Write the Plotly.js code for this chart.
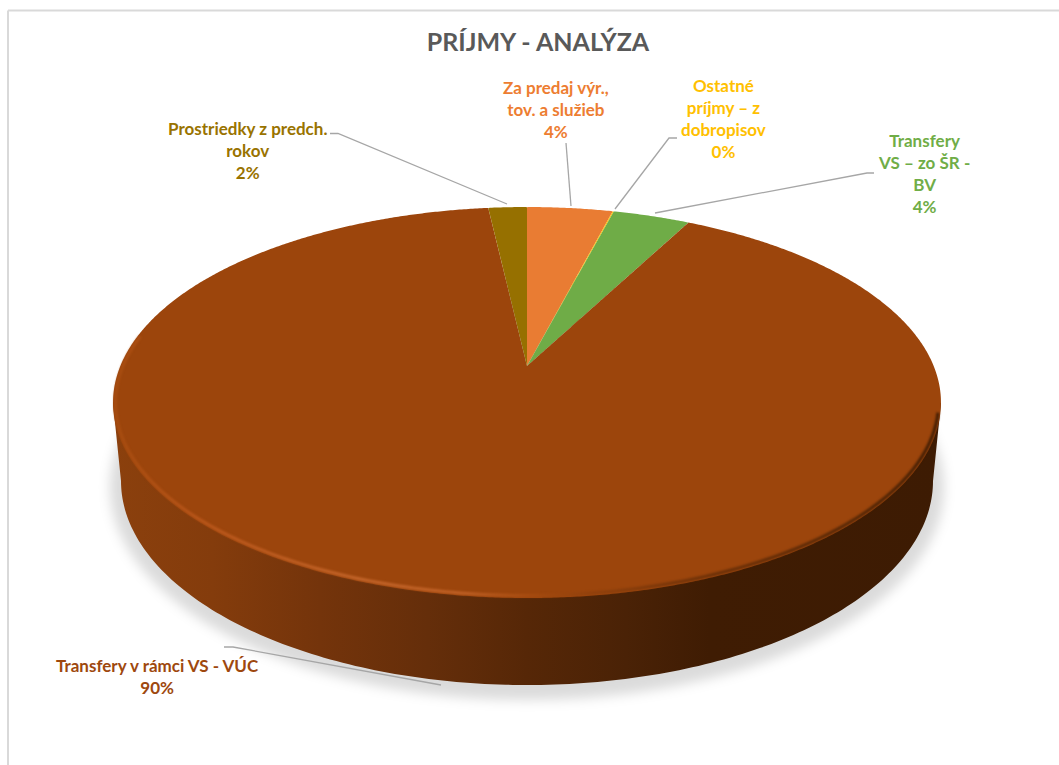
<!DOCTYPE html>
<html>
<head>
<meta charset="utf-8">
<script src="https://cdn.plot.ly/plotly-3.0.1.min.js"></script>
<style>html,body{margin:0;padding:0;background:#fff;overflow:hidden}#chart{width:1059px;height:765px}</style>
</head>
<body>
<div id="chart"></div>
<script>
var titleText = 'PRÍJMY - ANALÝZA';
var categories = ['Za predaj výr., tov. a služieb', 'Ostatné príjmy – z dobropisov', 'Transfery VS – zo ŠR - BV', 'Transfery v rámci VS - VÚC', 'Prostriedky z predch. rokov'];
var values = [4.0, 0.05, 3.6, 90.4, 1.8];
var sliceColors = ['#e97c33', '#ffc000', '#6fac47', '#9c450c', '#967000'];
var labelColors = ['#ed7d31', '#ffc000', '#70ad47', '#9e480e', '#997300'];
var labelLines = [
  ['Za predaj výr.,', 'tov. a služieb'],
  ['Ostatné', 'príjmy – z', 'dobropisov'],
  ['Transfery', 'VS – zo ŠR -', 'BV'],
  ['Transfery v rámci VS - VÚC'],
  ['Prostriedky z predch.', 'rokov']
];
var labelX = [556, 723, 924, 157, 247];
var labelY = [110, 118, 174, 676, 151];
var leaders = [
  [[566,143],[571,206]],
  [[677,138],[669,138],[615,209]],
  [[874,173],[867,173],[655,213]],
  [[224,647],[233,647],[441,685]],
  [[330,133.5],[338,133.5],[507,204]]
];

var W = 1059, H = 765;
function px(x){ return x / W; }
function py(y){ return 1 - y / H; }
function poly(pts, close){
  return pts.map(function(p,i){ return (i ? 'L' : 'M') + px(p[0]) + ',' + py(p[1]); }).join(' ') + (close ? ' Z' : '');
}
function arc(cx, cy, rx, ry, a0, a1){
  var out = [];
  for (var i = 0; i <= 180; i++){
    var a = (a0 + (a1 - a0) * i / 180) * Math.PI / 180;
    out.push([cx + rx * Math.cos(a), cy + ry * Math.sin(a)]);
  }
  return out;
}
// disc geometry (perspective view of the pie top, plus its rim)
var apex = [527, 366], disc = {cx:527, cy:402.5, rx:414, ry:195.5}, q = -0.1867, A = 188.7, B = 406.7;
var wallPts = [[113,403]].concat(arc(527,481,406,204,180,0)).concat([[941,403]]);
var shadowPts = arc(527,487,417,213,0,360);
var rimPts = arc(disc.cx, disc.cy, disc.rx - 2.5, disc.ry - 2.5, 200, 3);

var shapes = [
  {type:'path', xref:'paper', yref:'paper', layer:'below', path:poly(shadowPts,true), fillcolor:'rgba(0,0,0,0.14)', line:{width:0}},
  {type:'path', xref:'paper', yref:'paper', layer:'below', path:poly(wallPts,true), fillcolor:'#5a2907', line:{width:0}},
  {type:'path', xref:'paper', yref:'paper', layer:'above', path:poly(rimPts,false), fillcolor:'rgba(0,0,0,0)', line:{color:'#b4561a', width:3}},
  {type:'line', xref:'paper', yref:'paper', layer:'below', x0:px(8), x1:1, y0:py(10.5), y1:py(10.5), line:{color:'#d9d9d9', width:2}},
  {type:'line', xref:'paper', yref:'paper', layer:'below', x0:px(8), x1:px(8), y0:py(10.5), y1:0, line:{color:'#d9d9d9', width:2}}
];
leaders.forEach(function(l){
  shapes.push({type:'path', xref:'paper', yref:'paper', layer:'above', path:poly(l,false), fillcolor:'rgba(0,0,0,0)', line:{color:'#a6a6a6', width:1.3}});
});

var annotations = categories.map(function(c,i){
  var pct = Math.round(values[i]) + '%';
  return {
    xref:'paper', yref:'paper', x:px(labelX[i]), y:py(labelY[i]),
    xanchor:'center', yanchor:'middle', showarrow:false, align:'center',
    text: labelLines[i].concat([pct]).join('<br>'),
    font:{family:'Lato, sans-serif', size:17, color:labelColors[i], weight:700}
  };
});

var data = [{
  type:'pie', labels:categories, values:values, sort:false, direction:'clockwise', rotation:0,
  marker:{colors:sliceColors, line:{width:0}}, textinfo:'none', hoverinfo:'label+percent',
  showlegend:false, domain:{x:[0.1,0.9], y:[0.1,0.9]}
}];
var layout = {
  width:W, height:H, margin:{l:0,r:0,t:0,b:0}, paper_bgcolor:'#ffffff', showlegend:false,
  title:{text:titleText, x:px(538), y:py(42), xref:'paper', yref:'paper', xanchor:'center', yanchor:'middle',
         font:{family:'Lato, sans-serif', size:25, color:'#595959', weight:700}},
  shapes:shapes, annotations:annotations
};

function project(gd){
  // tilt every pie slice into the disc's perspective
  var slices = gd.querySelectorAll('.pielayer path.surface');
  var cx = null, cy = null, R = 0;
  slices.forEach(function(p){
    var L = p.getTotalLength();
    var s0 = p.getPointAtLength(0);
    if (cx === null){ cx = s0.x; cy = s0.y; }
    for (var i = 0; i <= 200; i++){
      var s = p.getPointAtLength(L * i / 200);
      R = Math.max(R, Math.hypot(s.x - cx, s.y - cy));
    }
  });
  slices.forEach(function(p){
    var L = p.getTotalLength(), n = Math.max(12, Math.ceil(L / 2)), d = [];
    for (var i = 0; i <= n; i++){
      var s = p.getPointAtLength(L * i / n);
      var u = (s.x - cx) / R, t = (s.y - cy) / R, w = 1 + q * t;
      d.push((i ? 'L' : 'M') + (apex[0] + B * u / w).toFixed(2) + ',' + (apex[1] + A * t / w).toFixed(2));
    }
    p.setAttribute('d', d.join(' ') + ' Z');
    p.removeAttribute('transform');
    p.style.stroke = 'none';
  });
  // gradients and blur
  var svg = gd.querySelector('svg.main-svg');
  var NS = 'http://www.w3.org/2000/svg';
  var defs = svg.querySelector('defs') || svg.insertBefore(document.createElementNS(NS,'defs'), svg.firstChild);
  function grad(id, stops){
    var g = document.createElementNS(NS,'linearGradient');
    g.setAttribute('id', id); g.setAttribute('gradientUnits','userSpaceOnUse');
    g.setAttribute('x1',113); g.setAttribute('x2',941); g.setAttribute('y1',0); g.setAttribute('y2',0);
    stops.forEach(function(st){
      var e = document.createElementNS(NS,'stop');
      e.setAttribute('offset', st[0]); e.setAttribute('stop-color', st[1]); g.appendChild(e);
    });
    defs.appendChild(g);
  }
  grad('wallGrad', [[0,'#8b400d'],[0.12,'#843c0c'],[0.25,'#74340b'],[0.38,'#652e0a'],[0.5,'#562707'],[0.62,'#4a2206'],[0.72,'#3f1c03'],[1,'#3d1b03']]);
  grad('rimGrad', [[0,'#a64c10'],[0.1,'#b9561a'],[0.3,'#c4652a'],[0.42,'#c06126'],[0.5,'#a84c10'],[0.58,'#8f400c'],[0.72,'#6b3008'],[0.9,'#532606'],[1,'#3f1c03']]);
  var low = gd.querySelectorAll('.layer-below .shapelayer path');
  var up = gd.querySelectorAll('.layer-above .shapelayer path');
  low[0].style.filter = 'blur(6px)';
  low[1].style.fill = 'url(#wallGrad)';
  up[0].style.stroke = 'url(#rimGrad)';
  up[0].style.filter = 'blur(0.9px)';
}
Plotly.newPlot('chart', data, layout, {displayModeBar:false, staticPlot:true}).then(function(gd){ project(gd); });
</script>
</body>
</html>
